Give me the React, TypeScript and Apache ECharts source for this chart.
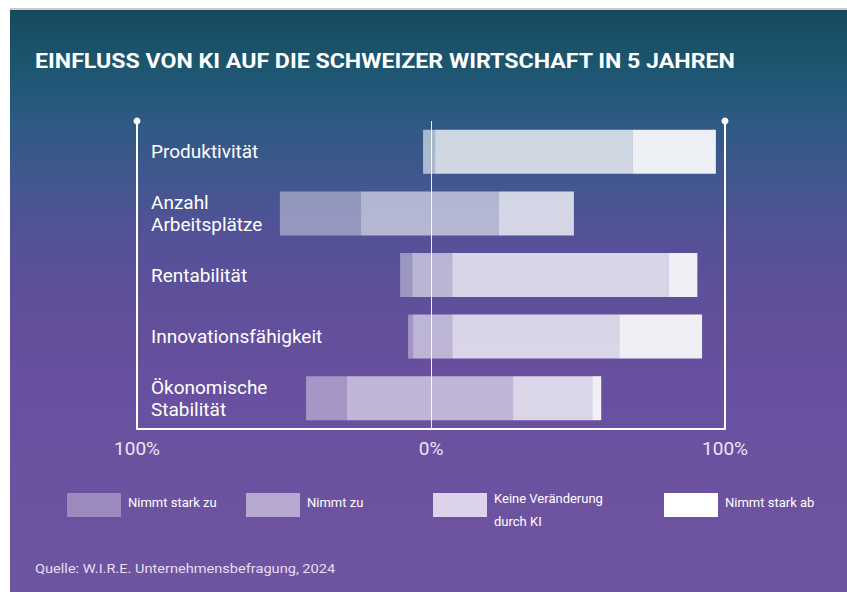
import React, { useEffect, useRef } from "react";
import * as echarts from "echarts";

const categories = [
  "Produktivität",
  "Anzahl\nArbeitsplätze",
  "Rentabilität",
  "Innovationsfähigkeit",
  "Ökonomische\nStabilität",
];
// leading (invisible) offset to the left of 0 where each bar starts
const offsetStart = [-2.7, -51.4, -10.5, -7.8, -42.5];
const nimmtStarkZu = [0, 27.6, 4.1, 1.7, 13.9];
const nimmtZu = [4.1, 46.9, 13.6, 13.3, 56.5];
const keineVeraenderung = [67.3, 25.5, 73.5, 56.8, 26.9];
const nimmtStarkAb = [28.2, 0, 9.9, 28.2, 3.1];
const sideTicks = [-100, 100];
const centerTick = [0];

const seriesNames = ["Nimmt stark zu", "Nimmt zu", "Keine Veränderung\ndurch KI", "Nimmt stark ab"];
const barColors = [
  "rgba(255,255,255,0.40)",
  "rgba(255,255,255,0.58)",
  "rgba(255,255,255,0.76)",
  "rgba(255,255,255,0.91)",
];
const legendColors = ["#9c89bd", "#b8a9d1", "#dcd3ea", "#ffffff"];

export default function App() {
  const ref = useRef<HTMLDivElement>(null);
  useEffect(() => {
    if (!ref.current) return;
    const chart = echarts.init(ref.current, null, { renderer: "svg" });
    const font = "Roboto, 'Noto Sans', sans-serif";
    const values = [nimmtStarkZu, nimmtZu, keineVeraenderung, nimmtStarkAb];
    const legendX = [67, 246, 433, 664];
    const graphic: any[] = [];
    seriesNames.forEach((n, i) => {
      graphic.push({
        type: "rect",
        shape: { x: legendX[i], y: 493, width: 54, height: 24 },
        style: { fill: legendColors[i] },
      });
      graphic.push({
        type: "text",
        x: legendX[i] + 61,
        y: i === 2 ? 487 : 491,
        style: {
          text: n,
          fill: "#ffffff",
          font: `13px ${font}`,
          lineHeight: 23,
        },
      });
    });
    graphic.push({
      type: "text",
      x: 35,
      y: 50,
      scaleX: 1.13,
      style: {
        text: "EINFLUSS VON KI AUF DIE SCHWEIZER WIRTSCHAFT IN 5 JAHREN",
        fill: "#ffffff",
        font: `bold 20.5px ${font}`,
      },
    });
    graphic.push({
      type: "text",
      x: 35,
      y: 561,
      scaleX: 1.08,
      style: {
        text: "Quelle: W.I.R.E. Unternehmensbefragung, 2024",
        fill: "#e6def0",
        font: `13.5px ${font}`,
      },
    });

    const series: any[] = [
      {
        name: "offset",
        type: "bar",
        stack: "s",
        stackStrategy: "all",
        data: offsetStart,
        itemStyle: { color: "transparent" },
        barWidth: 44,
        silent: true,
        markLine: {
          silent: true,
          symbol: ["circle", "none"],
          symbolSize: 7,
          label: { show: false },
          lineStyle: { color: "#ffffff", type: "solid", width: 2 },
          data: sideTicks.map((t) => ({ xAxis: t })),
        },
      },
      ...values.map((v, i) => ({
        name: seriesNames[i],
        type: "bar",
        stack: "s",
        stackStrategy: "all",
        data: v,
        barWidth: 44,
        itemStyle: { color: barColors[i] },
        markLine:
          i === 3
            ? {
                silent: true,
                symbol: "none",
                label: { show: false },
                lineStyle: { color: "rgba(255,255,255,0.9)", type: "solid", width: 1 },
                data: centerTick.map((t) => ({ xAxis: t })),
              }
            : undefined,
      })),
    ];

    chart.setOption({
      animation: false,
      textStyle: { fontFamily: font },
      grid: { left: 137, right: 122, top: 121, bottom: 163, containLabel: false },
      xAxis: {
        type: "value",
        min: -100,
        max: 100,
        interval: 100,
        axisLine: { show: true, lineStyle: { color: "#ffffff", width: 2 } },
        axisTick: { show: false },
        splitLine: { show: false },
        axisLabel: {
          color: "#ece6f4",
          fontSize: 19,
          margin: 10,
          formatter: (v: number) => `${Math.abs(v)}%`,
        },
      },
      yAxis: {
        type: "category",
        data: categories,
        inverse: true,
        axisLine: { show: false },
        axisTick: { show: false },
        axisLabel: {
          inside: true,
          margin: 14,
          color: "#ffffff",
          fontSize: 19,
          lineHeight: 22,
          align: "left",
        },
      },
      series,
      graphic,
    });
    return () => chart.dispose();
  }, []);

  return (
    <div style={{ position: "absolute", left: 0, top: 0, width: 847, height: 592, background: "#ffffff", overflow: "hidden" }}>
      <div style={{ position: "absolute", left: 10, top: 8, width: 837, height: 2, background: "#c9c9c9" }} />
      <div
        style={{
          position: "absolute",
          left: 10,
          top: 10,
          width: 837,
          height: 582,
          background:
            "linear-gradient(180deg, #164a5e 0%, #1d5670 10%, #2f5a84 20%, #44568f 30%, #555198 40%, #614f9b 52%, #6a50a0 68%, #6d52a0 85%, #6f54a0 100%)",
        }}
      />
      <div ref={ref} style={{ position: "absolute", left: 0, top: 0, width: 847, height: 592 }} />
    </div>
  );
}
